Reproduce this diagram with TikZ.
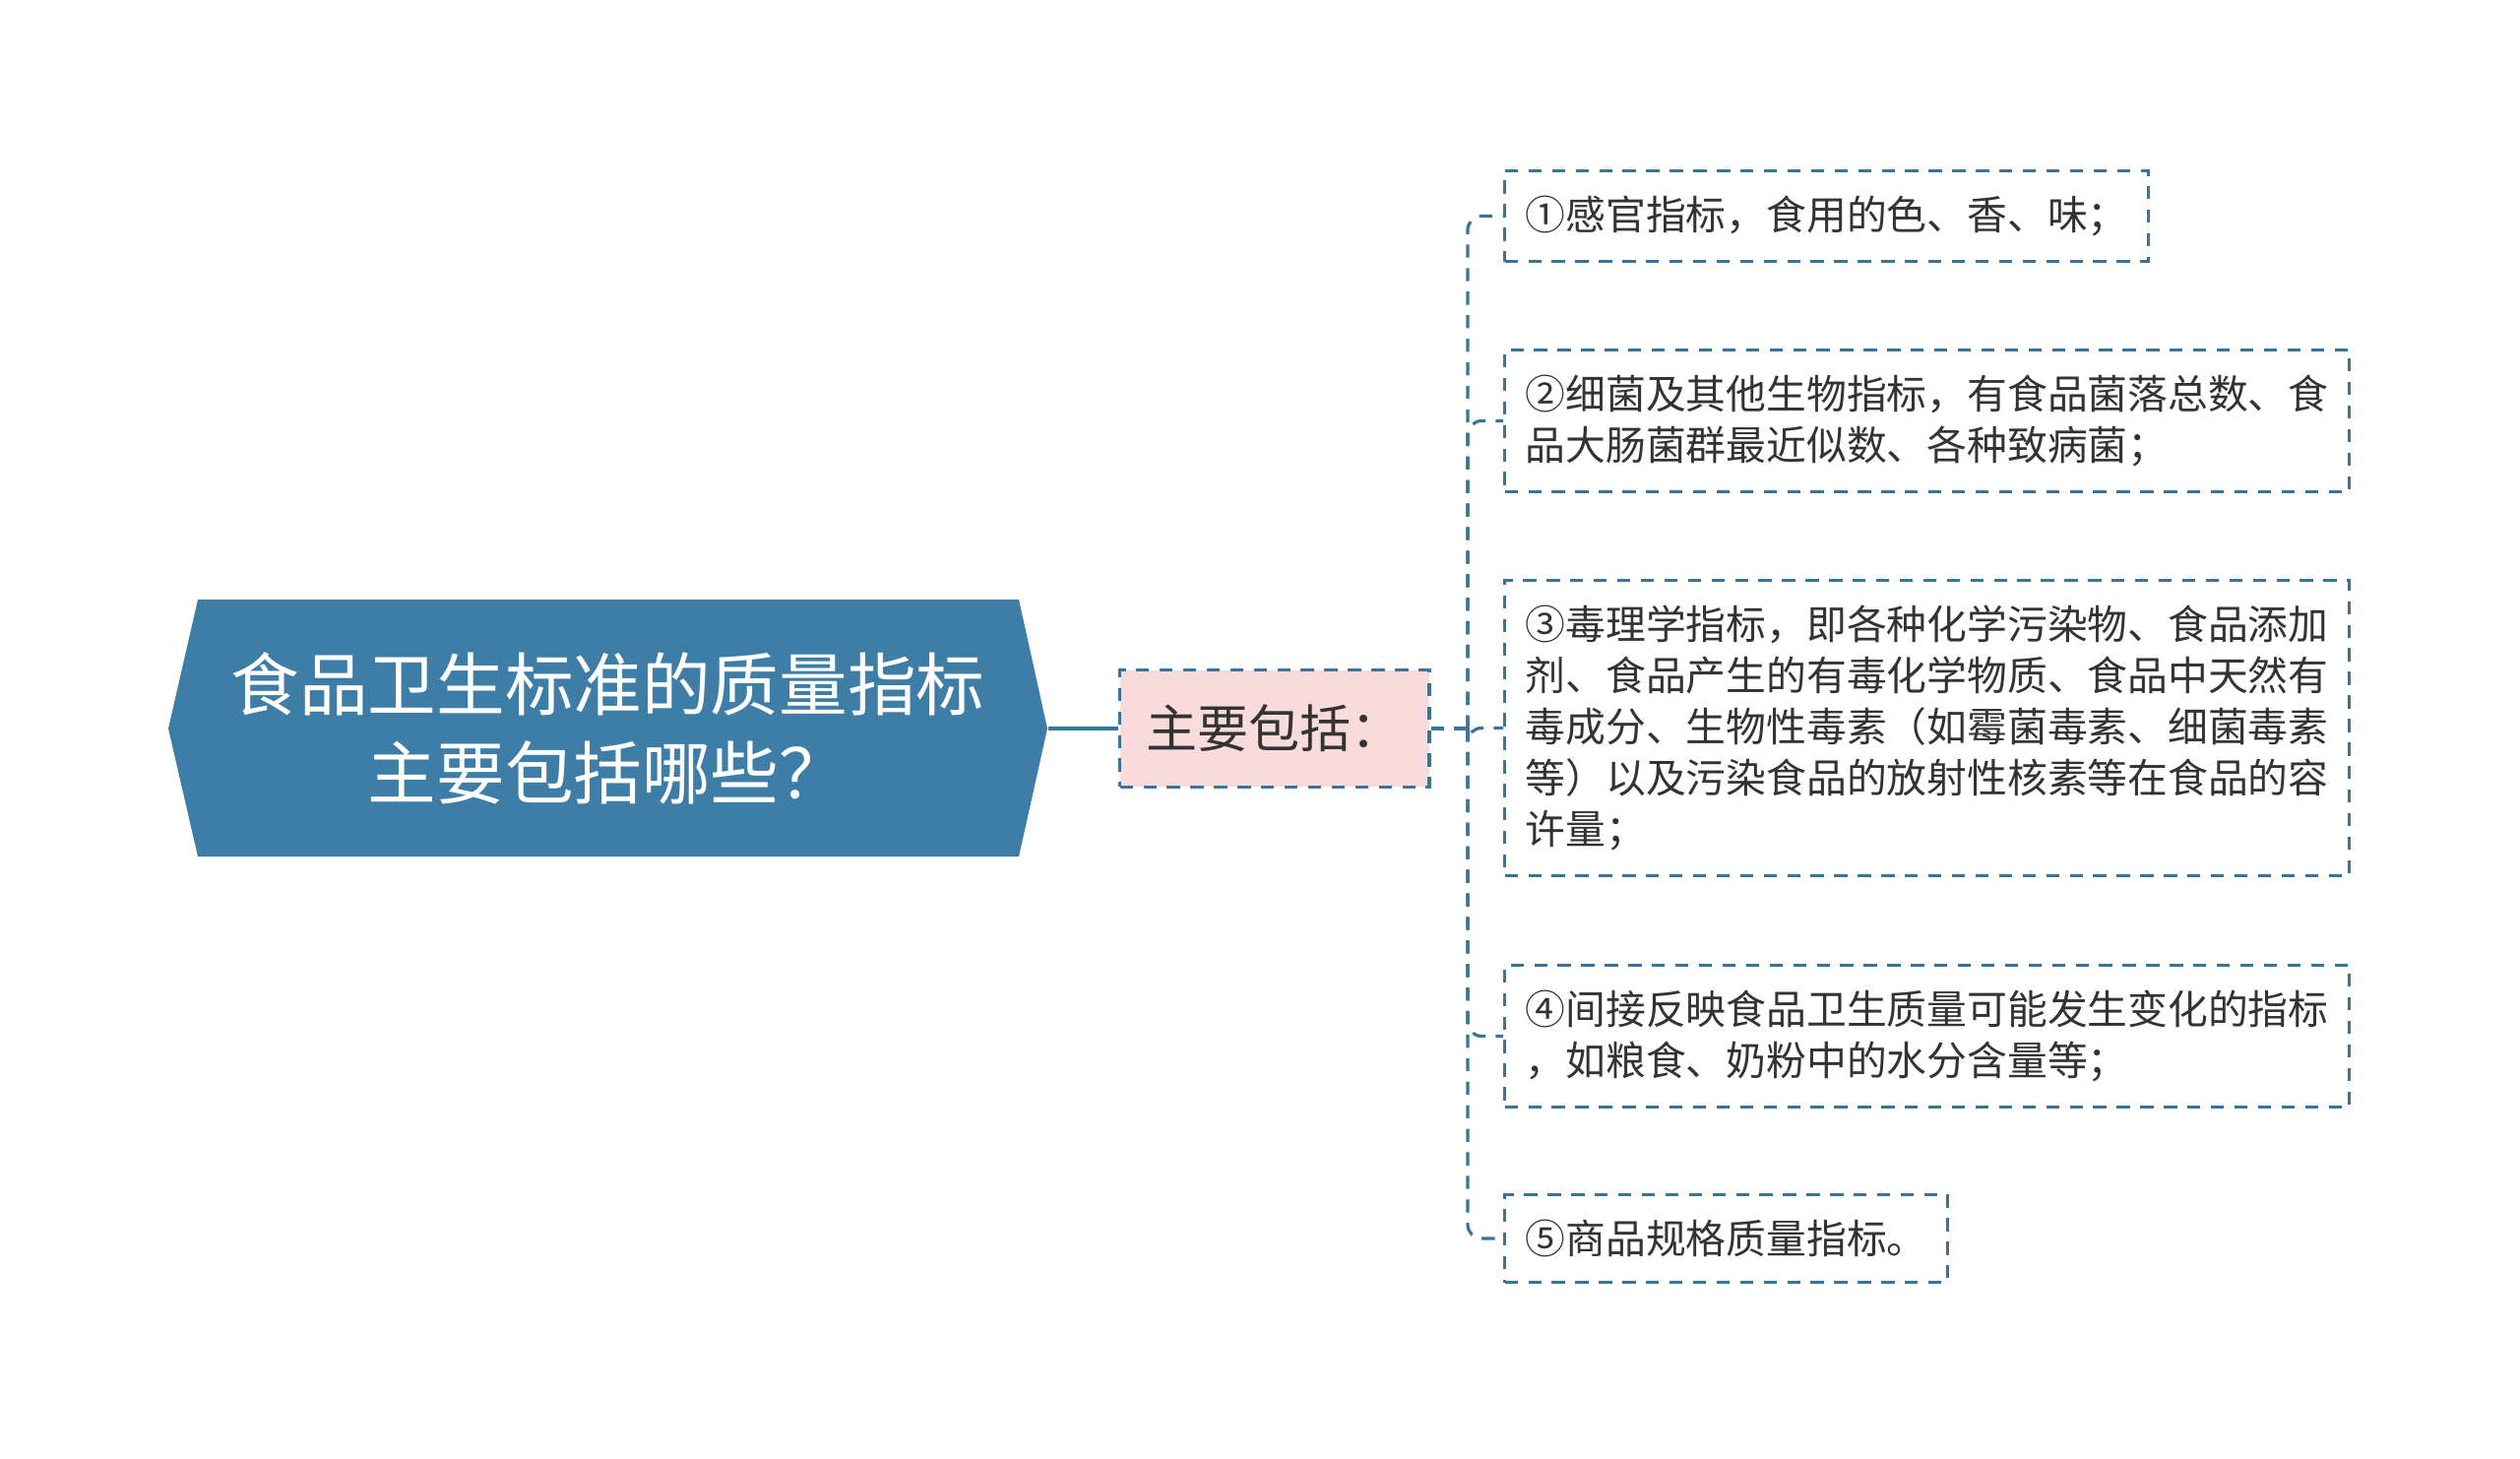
\documentclass[tikz,border=0pt]{standalone}
\usepackage{fontspec}
\setmainfont{Noto Sans CJK SC}
\usepackage{tikz}

\definecolor{rootblue}{HTML}{3E7EA6}
\definecolor{linkblue}{HTML}{3A7499}
\definecolor{pinkfill}{HTML}{FADBDB}
\definecolor{txtgray}{HTML}{333333}

\begin{document}
\begin{tikzpicture}[x=0.01cm,y=-0.01cm,
    line/.style={draw=linkblue,line width=0.9pt},
    dashline/.style={line,dash pattern=on 3.8pt off 3pt},
    topic/.style={dashline,fill=pinkfill,text=txtgray,anchor=west,
        inner xsep=7.7pt,inner ysep=10pt,font=\fontsize{14.8pt}{18pt}\selectfont},
    leaf/.style={dashline,fill=white,text=txtgray,align=left,anchor=west,
        inner xsep=6pt,inner ysep=7.3pt,font=\fontsize{11.6pt}{14.8pt}\selectfont}]
    %initialisation
    \useasboundingbox (0,0) rectangle (2560,1481);
    %definitions
    \coordinate (fork) at (1491,740);
    %drawing
    \fill[rootblue] (171,740) -- (201,609) -- (1035,609) -- (1064,740)
        -- (1035,870) -- (201,870) -- cycle;
    \node[minimum width=8.93cm,minimum height=2.61cm,inner sep=0pt,
        text=white,align=center,font=\fontsize{19.8pt}{25.6pt}\selectfont]
        (root) at (617.5,740) {食品卫生标准的质量指标\\主要包括哪些？};
    \node[topic] (main) at (1136,740) {主要包括：};
    %leaves
    \node[leaf] (l1) at (1527,219.5) {①感官指标，食用的色、香、味；};
    \node[leaf] (l2) at (1527,427.5) {②细菌及其他生物指标，有食品菌落总数、食\\品大肠菌群最近似数、各种致病菌；};
    \node[leaf] (l3) at (1527,739.5) {③毒理学指标，即各种化学污染物、食品添加\\剂、食品产生的有毒化学物质、食品中天然有\\毒成分、生物性毒素（如霉菌毒素、细菌毒素\\等）以及污染食品的放射性核素等在食品的容\\许量；};
    \node[leaf] (l4) at (1527,1052.5) {④间接反映食品卫生质量可能发生变化的指标\\，如粮食、奶粉中的水分含量等；};
    \node[leaf] (l5) at (1527,1258) {⑤商品规格质量指标。};
    %links
    \draw[line] (root.east) -- (main.west);
    \draw[dashline] (main.east) -- (fork);
    \foreach \n in {l1,l2,l3,l4,l5}
        \draw[dashline,rounded corners=4pt] (fork) |- (\n.west);
\end{tikzpicture}
\end{document}
